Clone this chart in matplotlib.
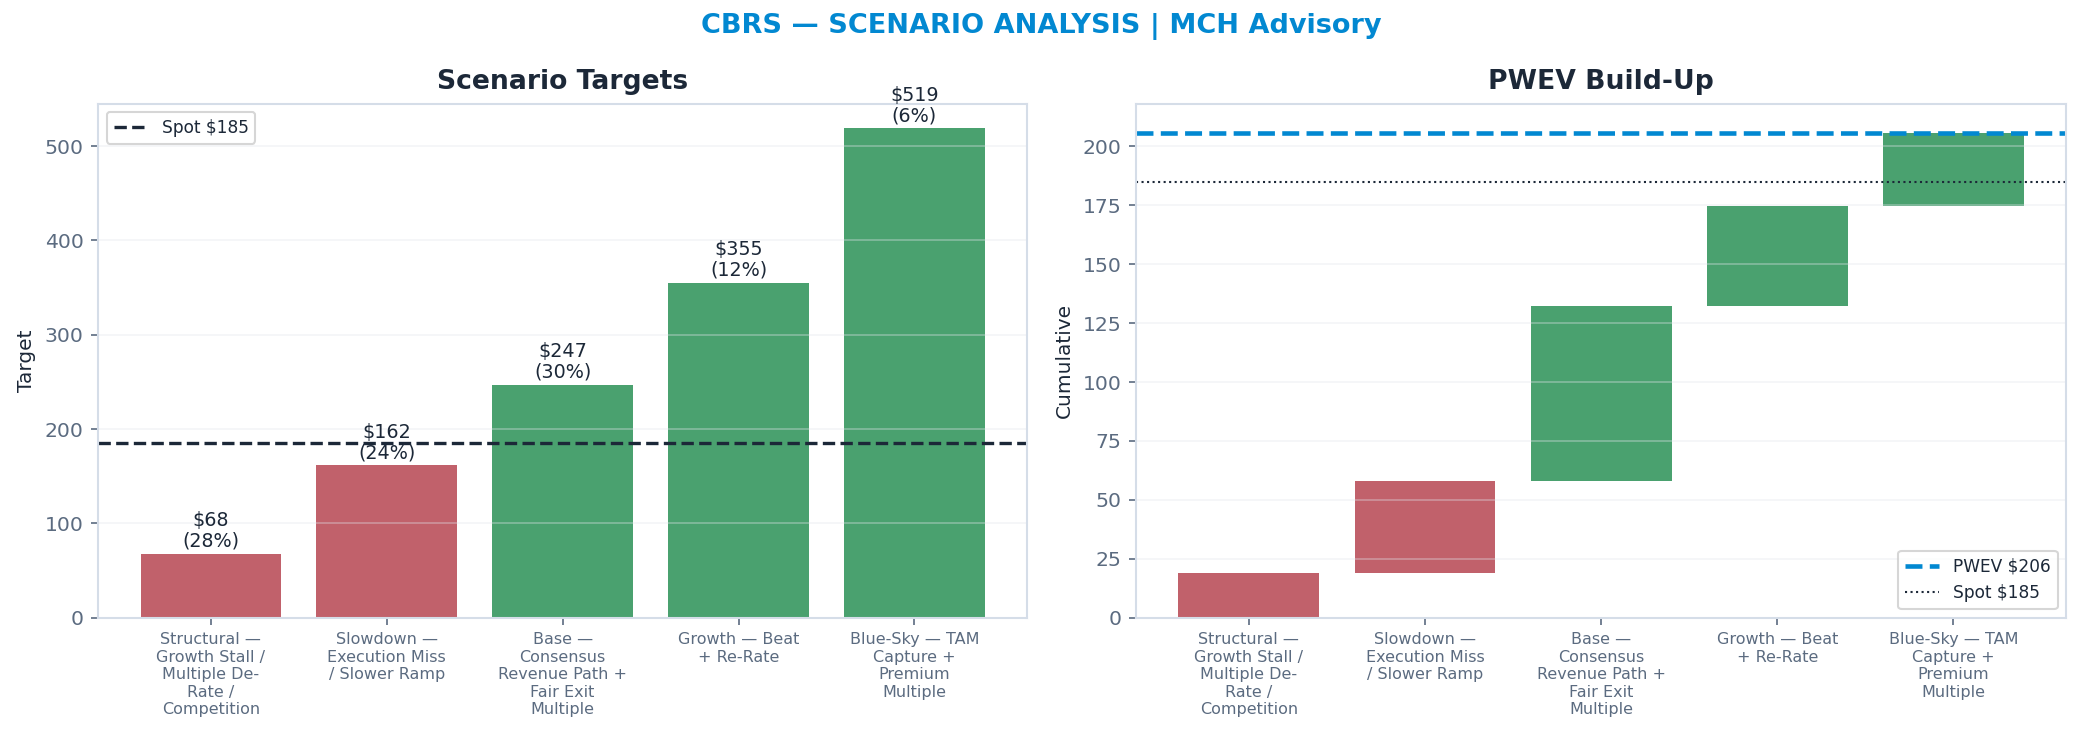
import textwrap

import matplotlib
matplotlib.use("Agg")
import matplotlib.pyplot as plt
import numpy as np

scenarios = [
    "Structural — Growth Stall / Multiple De-Rate / Competition",
    "Slowdown — Execution Miss / Slower Ramp",
    "Base — Consensus Revenue Path + Fair Exit Multiple",
    "Growth — Beat + Re-Rate",
    "Blue-Sky — TAM Capture + Premium Multiple",
]
targets = [68, 162, 247, 355, 519]
probs = [0.28, 0.24, 0.30, 0.12, 0.06]
spot = 185

RED = "#C1616B"
GREEN = "#4AA16F"
BLUE = "#0288D1"
NAVY = "#1C2838"
SLATE = "#5B6B80"
SPINE = "#D5DDE8"

plt.rcParams["font.family"] = ["DejaVu Sans"]

fig = plt.figure(figsize=(13.887, 4.947), dpi=150)
ax1 = fig.add_axes([0.0472, 0.1675, 0.4458, 0.6929])
ax2 = fig.add_axes([0.5454, 0.1675, 0.4465, 0.6929])

x = np.arange(len(scenarios))
labels = [textwrap.fill(s, 14) for s in scenarios]
colors = [RED if t < spot else GREEN for t in targets]

# left: scenario targets
ax1.bar(x, targets, width=0.8, color=colors)
for xi, t, p in zip(x, targets, probs):
    ax1.text(xi, t + 3, f"${t}\n({p:.0%})", ha="center", va="bottom",
             fontsize=9.2, color=NAVY, linespacing=1.1)
ax1.axhline(spot, color=NAVY, ls="--", lw=1.6, label=f"Spot ${spot}")
ax1.set_ylim(0, max(targets) * 1.05)
ax1.set_ylabel("Target", fontsize=9.7, color=NAVY)
ax1.set_title("Scenario Targets", fontsize=12.8, fontweight="bold", color=NAVY, pad=7)
ax1.legend(loc="upper left", fontsize=8.2, labelcolor=NAVY, edgecolor="#CCCCCC")

# right: PWEV waterfall
contrib = np.array(targets) * np.array(probs)
cum = np.cumsum(contrib)
bottoms = cum - contrib
pwev = cum[-1]
ax2.bar(x, contrib, bottom=bottoms, width=0.8, color=colors)
ax2.axhline(pwev, color=BLUE, ls="--", lw=2.2, label=f"PWEV ${pwev:.0f}")
ax2.axhline(spot, color=NAVY, ls=":", lw=1.0, label=f"Spot ${spot}")
ax2.set_ylim(0, pwev * 1.06)
ax2.set_ylabel("Cumulative", fontsize=9.7, color=NAVY)
ax2.set_title("PWEV Build-Up", fontsize=12.8, fontweight="bold", color=NAVY, pad=7)
ax2.legend(loc="lower right", fontsize=8.2, labelcolor=NAVY, edgecolor="#CCCCCC")

for ax in (ax1, ax2):
    ax.set_xticks(x)
    ax.set_xticklabels(labels, fontsize=7.7, color=SLATE)
    ax.tick_params(axis="y", labelsize=9.8, colors=SLATE)
    ax.tick_params(axis="x", colors=SLATE)
    ax.grid(axis="y", color="#E2E6EC", alpha=0.35, lw=0.9)
    for sp in ax.spines.values():
        sp.set_color(SPINE)
        sp.set_linewidth(1.0)

fig.suptitle("CBRS — SCENARIO ANALYSIS | MCH Advisory", fontsize=13,
             fontweight="bold", color=BLUE, y=0.964, va="center")

fig.savefig("out.png", dpi=150)
